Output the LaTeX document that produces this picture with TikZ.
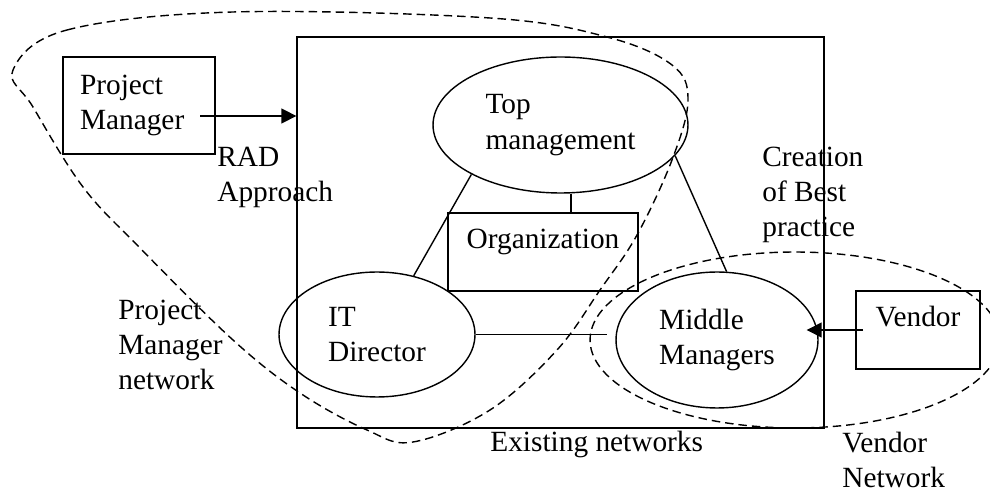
\documentclass[tikz,border=0pt]{standalone}
\usepackage{fontspec}
\setmainfont{Liberation Serif}
\usetikzlibrary{shapes.geometric,arrows.meta}

\tikzset{
    box/.style={draw, line width=0.8pt, inner sep=0pt},
    oval/.style={draw, ellipse, line width=0.8pt, inner sep=0pt, align=left},
    lbl/.style={anchor=base west, inner sep=0pt, align=left},
    link/.style={line width=0.8pt},
    arr/.style={line width=0.8pt, -{Triangle[length=0.3cm, width=0.3cm]}},
    netline/.style={line width=0.8pt, dash pattern=on 0.17cm off 0.1cm},
}

\begin{document}
\begin{tikzpicture}[x=0.02cm, y=-0.02cm, font=\fontsize{16.7pt}{20pt}\selectfont]
    \useasboundingbox (0,0) rectangle (990,492);
    % existing networks
    \node[box, minimum width=10.54cm, minimum height=7.82cm] (net) at (560.5,232.5) {};
    \node[oval, minimum width=5.1cm, minimum height=2.72cm] (topm) at (560.5,125) {Top\\management};
    \node[box, minimum width=3.8cm, text height=0.72cm, text depth=0.84cm] (org) at (543,252) {Organization};
    \node[oval, minimum width=3.92cm, minimum height=2.5cm] (itd) at (377,334.5) {IT\\Director};
    \node[oval, minimum width=4.04cm, minimum height=2.72cm] (mid) at (717,340) {Middle\\Managers};
    % outside boxes
    \node[box, minimum height=1.94cm, text width=2.36cm, inner xsep=0.34cm, align=left] (pm) at (139,105.5) {Project\\Manager};
    \node[box, minimum width=2.48cm, text height=0.72cm, text depth=0.84cm] (vendor) at (918,330) {Vendor};

    \draw[link] (topm.209.5) -- (itd.58.7);
    \draw[link] (topm.-15.3) -- (mid.82.5);
    \draw[link] ([xshift=0.21cm]topm.south) -- ([xshift=0.21cm]topm.south |- org.north);
    \draw[link, shorten >=0.16cm] (itd.east) -- (itd.east -| mid.west);
    \coordinate (pmout) at (200,116);
    \draw[arr] (pmout) -- (pmout -| net.west);
    \coordinate (vout) at (863,330);
    \draw[arr, shorten >=-0.24cm] (vout) -- (vout -| mid.east);

    % labels, placed at the last baseline
    \node[lbl] (rad) at (217,202) {RAD\\Approach};
    \node[lbl] (best) at (762,237) {Creation\\of Best\\practice};
    \node[lbl] (pmnet) at (118,390) {Project\\Manager\\network};
    \node[lbl] (exist) at (490,452) {Existing networks};
    \node[lbl] (vnet) at (842,488) {Vendor\\Network};

    % networks
    \draw[netline] plot[smooth cycle, tension=0.6] coordinates {(13,70) (67,30) (233,12) (490,18) (607,37) (672,65) (688,100) (672,160) (637,235) (600,290) (557,350) (490,410) (413,442) (367,430) (300,393) (233,340) (140,248) (83,187) (33,107)};
    \draw[netline] (795,340) ellipse [x radius=4.1cm, y radius=1.76cm];
\end{tikzpicture}
\end{document}
